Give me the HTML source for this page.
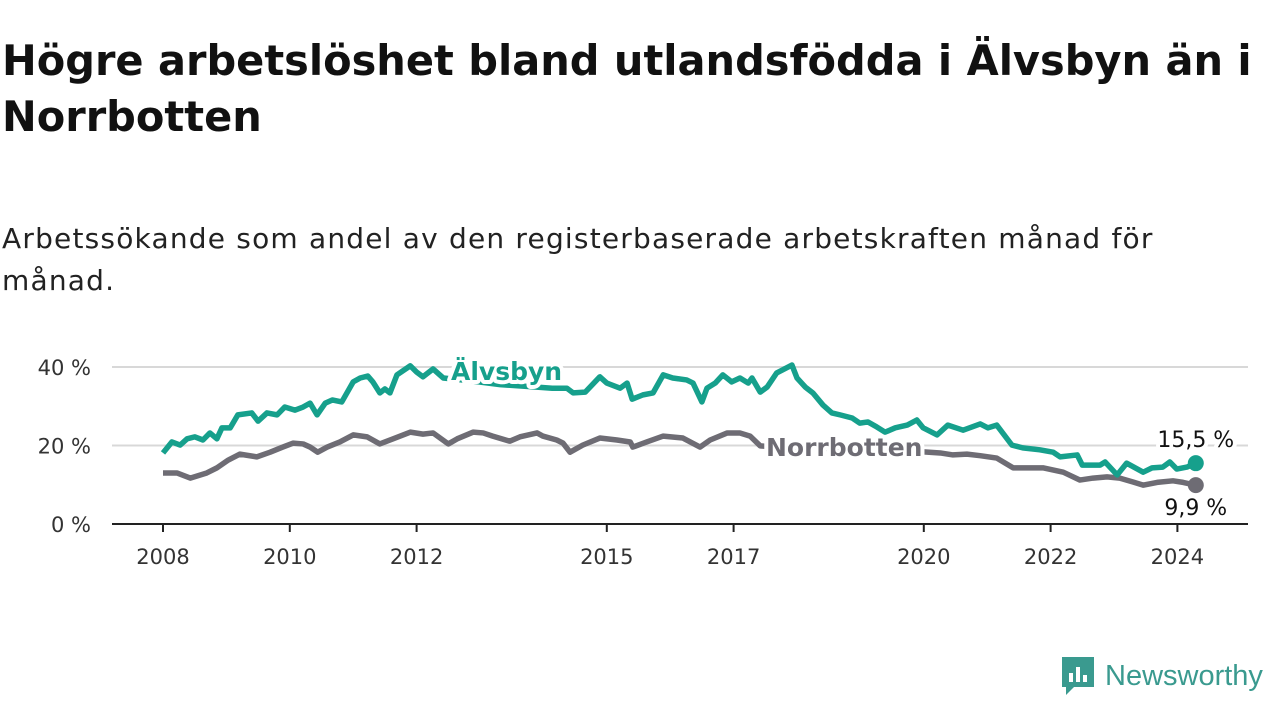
<!DOCTYPE html>
<html><head><meta charset="utf-8"><style>
body{margin:0;width:1280px;height:720px;background:#fff;font-family:"DejaVu Sans","Liberation Sans",sans-serif;overflow:hidden;position:relative;color:#111}
h1{position:absolute;left:2px;top:33px;margin:0;font-size:41.5px;line-height:56px;font-weight:bold;width:1278px;letter-spacing:0}
.sub{position:absolute;left:2px;top:218px;font-size:28px;line-height:42px;width:1190px;color:#222;letter-spacing:1.2px}
svg{position:absolute;left:0;top:0}
</style></head><body>
<h1>Högre arbetslöshet bland utlandsfödda i Älvsbyn än i Norrbotten</h1>
<div class="sub">Arbetssökande som andel av den registerbaserade arbetskraften månad för månad.</div>
<svg id="chart" width="1280" height="720"></svg>
<div style="position:absolute;left:1060px;top:655px;display:flex;align-items:center">
<svg width="36" height="42" style="position:static"><path d="M2 2h32v30H14l-8 8v-8H2z" fill="#3a9a8f"/><rect x="9" y="18" width="4" height="9" fill="#fff"/><rect x="16" y="12" width="4" height="15" fill="#fff"/><rect x="23" y="20" width="4" height="7" fill="#fff"/></svg>
<span style="font-family:'Liberation Sans',sans-serif;font-size:29px;color:#3a9a8f;margin-left:9px">Newsworthy</span></div>
<script>
const yTicks=[0,20,40];
const xTickYears=[2008,2010,2012,2015,2017,2020,2022,2024];
const alvDates=[2008.0,2008.14,2008.27,2008.38,2008.5,2008.63,2008.74,2008.85,2008.93,2009.06,2009.18,2009.4,2009.5,2009.64,2009.8,2009.92,2010.08,2010.21,2010.32,2010.43,2010.56,2010.67,2010.82,2011.0,2011.11,2011.23,2011.31,2011.42,2011.5,2011.58,2011.69,2011.9,2012.0,2012.1,2012.26,2012.42,2012.84,2013.32,2013.79,2014.14,2014.37,2014.47,2014.66,2014.89,2015.0,2015.21,2015.32,2015.4,2015.57,2015.73,2015.89,2016.04,2016.26,2016.36,2016.5,2016.58,2016.71,2016.83,2016.97,2017.1,2017.23,2017.29,2017.42,2017.53,2017.68,2017.92,2018.0,2018.13,2018.25,2018.41,2018.55,2018.68,2018.87,2018.99,2019.12,2019.26,2019.39,2019.55,2019.74,2019.89,2019.99,2020.21,2020.38,2020.62,2020.89,2021.01,2021.15,2021.39,2021.56,2021.83,2022.04,2022.15,2022.42,2022.5,2022.78,2022.86,2023.05,2023.2,2023.46,2023.6,2023.77,2023.88,2023.99,2024.15,2024.29];
const alvValues=[18.1,20.9,20.1,21.7,22.2,21.4,23.2,21.7,24.5,24.5,27.8,28.3,26.2,28.3,27.8,29.8,29.0,29.8,30.8,27.8,30.8,31.6,31.1,36.2,37.2,37.7,36.2,33.4,34.4,33.4,38.0,40.3,38.7,37.5,39.5,37.2,36.5,35.5,35.0,34.6,34.6,33.4,33.6,37.5,35.9,34.6,35.9,31.8,32.9,33.4,38.0,37.2,36.7,35.9,31.1,34.6,35.9,38.0,36.2,37.2,35.9,37.2,33.6,34.9,38.5,40.5,37.2,34.9,33.4,30.3,28.3,27.8,27.0,25.7,26.0,24.7,23.4,24.5,25.2,26.5,24.5,22.7,25.2,23.9,25.5,24.5,25.2,20.1,19.4,18.9,18.3,17.1,17.6,15.0,15.0,15.8,12.5,15.5,13.2,14.3,14.5,15.8,14.0,14.5,15.5];
const norDates=[2008.0,2008.22,2008.43,2008.69,2008.85,2009.03,2009.21,2009.48,2009.69,2009.89,2010.05,2010.21,2010.32,2010.44,2010.59,2010.79,2011.0,2011.22,2011.42,2011.63,2011.9,2012.1,2012.26,2012.5,2012.64,2012.89,2013.05,2013.2,2013.47,2013.63,2013.9,2013.99,2014.21,2014.31,2014.42,2014.62,2014.89,2015.16,2015.37,2015.41,2015.63,2015.89,2016.2,2016.47,2016.63,2016.9,2017.1,2017.26,2017.42,2017.73,2018.36,2018.99,2019.62,2020.26,2020.46,2020.68,2020.89,2021.15,2021.41,2021.68,2021.88,2022.2,2022.46,2022.67,2022.89,2023.09,2023.3,2023.46,2023.68,2023.93,2024.09,2024.29];
const norValues=[13.0,13.0,11.7,13.0,14.3,16.3,17.8,17.1,18.3,19.6,20.6,20.4,19.6,18.3,19.6,20.9,22.7,22.2,20.4,21.7,23.4,22.9,23.2,20.4,21.7,23.4,23.2,22.4,21.1,22.2,23.2,22.4,21.4,20.6,18.3,20.1,21.9,21.4,20.9,19.6,20.9,22.4,21.9,19.6,21.4,23.2,23.2,22.4,19.9,19.5,19.3,19.0,18.8,18.1,17.6,17.8,17.4,16.8,14.3,14.3,14.3,13.2,11.2,11.7,12.0,11.7,10.7,9.9,10.6,11.0,10.6,9.9];
const NS='http://www.w3.org/2000/svg';
const svg=document.getElementById('chart');
const X=y=>163+(y-2008)*63.4;
const Y=v=>524-v*3.925;
function mk(t,a){const e=document.createElementNS(NS,t);for(const k in a)e.setAttribute(k,a[k]);svg.appendChild(e);return e;}
yTicks.forEach(v=>{
 if(v>0){const g=mk('line',{x1:112,x2:1248,y1:Y(v),y2:Y(v),stroke:'#d8d8d8','stroke-width':2});
 
 }
 const t=mk('text',{x:91,y:Y(v)+8,'text-anchor':'end','font-size':21,fill:'#333'});t.textContent=v+' %';
 
 
});
const ax=mk('line',{x1:112,x2:1248,y1:524,y2:524,stroke:'#222','stroke-width':2});


xTickYears.forEach(yr=>{
 const l=mk('line',{x1:X(yr),x2:X(yr),y1:524,y2:532,stroke:'#222','stroke-width':2});
 
 
 const t=mk('text',{x:X(yr),y:564,'text-anchor':'middle','font-size':21,fill:'#333'});t.textContent=yr;
 
 
});
function series(d,v,col,name){
 const p=mk('polyline',{points:d.map((x,i)=>X(x)+','+Y(v[i])).join(' '),fill:'none',stroke:col,'stroke-width':5.5,'stroke-linejoin':'round'});
 
 
 const n=d.length-1;
 const c=mk('circle',{cx:X(d[n]),cy:Y(v[n]),r:8,fill:col});
 
 
}
series(norDates,norValues,'#6e6c74','norrbotten');
series(alvDates,alvValues,'#16a08c','alvsbyn');
function lbl(txt,x,y,col,size,bold,anchor,name){
 const t=mk('text',{x:x,y:y,fill:col,'font-size':size,'font-weight':bold?'bold':'normal','text-anchor':anchor,stroke:'#fff','stroke-width':8,'paint-order':'stroke','stroke-linejoin':'round'});
 t.textContent=txt;
 
 
}
lbl('Älvsbyn',451,380,'#16a08c',25,true,'start','alvsbyn-label');
lbl('Norrbotten',766,456,'#6e6c74',25,true,'start','norrbotten-label');
lbl('15,5 %',X(alvDates[alvDates.length-1]),Y(alvValues[alvValues.length-1])-16,'#111',22,false,'middle','alvsbyn-value-label');
lbl('9,9 %',X(norDates[norDates.length-1]),Y(norValues[norValues.length-1])+30,'#111',22,false,'middle','norrbotten-value-label');
</script>
</body></html>
